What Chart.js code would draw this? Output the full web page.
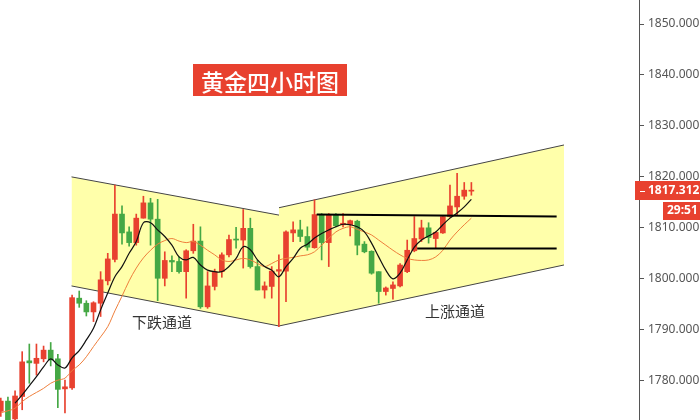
<!DOCTYPE html>
<html>
<head>
<meta charset="utf-8">
<script src="https://cdn.jsdelivr.net/npm/chart.js@4.4.1/dist/chart.umd.min.js"></script>
<style>
  html, body { margin: 0; padding: 0; background: #fff; }
  #wrap { position: relative; width: 700px; height: 420px; overflow: hidden; }
  #wrap canvas { position: absolute; left: 0; top: 0; }
  .title {
    position: absolute; left: 193px; top: 64px; width: 154px; height: 32px;
    background: #e8412f; color: #fff; text-align: center; line-height: 32px;
    font: 500 23px "Noto Sans CJK SC", sans-serif; letter-spacing: 0px;
  }
  .tag {
    position: absolute; color: #333; font: 15px "Noto Sans CJK SC", sans-serif;
    white-space: nowrap;
  }
</style>
</head>
<body>
<div id="wrap">
  <canvas id="goldChart" width="700" height="420"></canvas>
  <div class="title">黄金四小时图</div>
  <div class="tag" style="left:132px; top:311px;">下跌通道</div>
  <div class="tag" style="left:425px; top:300px;">上涨通道</div>
</div>
<script>
// 4H candles, oldest first
const opens = [
  1774.0, 1776.0, 1772.5, 1776.9, 1783.9, 1783.4, 1784.3, 1786.0, 1784.3, 1778.4,
  1778.6, 1796.2, 1795.2, 1793.5, 1795.2, 1799.6, 1803.8, 1812.7, 1809.2, 1807.1,
  1811.9, 1814.9, 1811.7, 1800.1, 1803.6, 1803.4, 1801.4, 1805.5, 1807.4, 1794.5,
  1798.5, 1801.4, 1804.7, 1807.8, 1807.6, 1809.9, 1802.4, 1797.8, 1798.5, 1801.5,
  1801.5, 1809.0, 1809.6, 1808.3, 1806.1, 1812.6, 1807.1, 1812.6, 1810.6, 1810.6,
  1811.3, 1806.8, 1805.4, 1801.4, 1797.5, 1798.1, 1798.6, 1801.4, 1805.5, 1807.8,
  1810.0, 1807.9, 1809.0, 1812.2, 1814.1, 1816.2, 1817.2
];
const highs = [
  1776.6, 1776.8, 1778.0, 1785.7, 1787.2, 1787.2, 1786.8, 1787.5, 1785.2, 1780.1,
  1796.8, 1797.6, 1795.7, 1795.5, 1801.4, 1805.0, 1818.4, 1814.3, 1810.2, 1812.7,
  1816.2, 1815.8, 1815.6, 1805.3, 1804.5, 1804.3, 1805.7, 1810.7, 1810.2, 1801.4,
  1801.9, 1805.1, 1808.6, 1810.1, 1813.6, 1811.9, 1803.6, 1799.4, 1802.4, 1804.7,
  1809.4, 1811.2, 1811.5, 1810.2, 1815.5, 1812.8, 1812.8, 1812.8, 1812.8, 1811.5,
  1811.5, 1807.3, 1805.5, 1801.4, 1798.4, 1799.4, 1803.0, 1807.6, 1812.2, 1811.5,
  1811.0, 1809.2, 1812.3, 1818.4, 1820.7, 1818.9, 1818.9
];
const lows = [
  1773.0, 1771.5, 1771.0, 1774.3, 1779.5, 1781.1, 1783.7, 1782.9, 1774.7, 1773.7,
  1778.3, 1794.4, 1792.7, 1791.6, 1792.6, 1798.8, 1803.3, 1806.8, 1806.4, 1806.6,
  1811.9, 1806.6, 1795.7, 1798.6, 1801.4, 1801.1, 1796.2, 1805.0, 1794.2, 1794.2,
  1797.8, 1800.3, 1804.3, 1806.0, 1802.1, 1802.1, 1797.8, 1796.2, 1796.2, 1790.6,
  1795.5, 1807.3, 1807.3, 1805.6, 1806.0, 1803.7, 1802.4, 1810.2, 1810.2, 1808.4,
  1804.7, 1805.1, 1800.9, 1795.2, 1796.8, 1796.0, 1798.4, 1801.2, 1805.3, 1807.3,
  1807.0, 1806.0, 1808.9, 1812.1, 1812.5, 1815.6, 1816.4
];
const closes = [
  1776.0, 1772.0, 1777.0, 1783.7, 1783.5, 1784.4, 1786.0, 1784.1, 1778.3, 1778.8,
  1796.3, 1795.2, 1793.5, 1795.3, 1799.8, 1803.9, 1812.7, 1809.0, 1807.1, 1811.9,
  1814.9, 1811.7, 1800.1, 1803.6, 1803.3, 1801.4, 1805.5, 1807.4, 1794.5, 1798.6,
  1801.4, 1804.7, 1807.7, 1807.6, 1809.9, 1802.4, 1797.8, 1798.6, 1801.5, 1801.8,
  1809.2, 1809.6, 1808.3, 1806.2, 1812.6, 1807.1, 1812.6, 1810.4, 1810.9, 1811.4,
  1806.6, 1805.3, 1801.1, 1797.5, 1798.2, 1798.8, 1802.7, 1805.6, 1807.9, 1810.0,
  1808.1, 1809.1, 1812.2, 1814.3, 1816.2, 1817.4, 1817.312
];
// moving averages
const maFast = [
  null, null, 1775.6, 1777.2, 1779.0, 1780.8, 1782.7, 1784.3, 1783.1, 1782.5,
  1784.5, 1785.9, 1788.0, 1790.3, 1793.9, 1797.2, 1800.4, 1802.4, 1805.0, 1807.3,
  1811.0, 1811.0, 1809.6, 1808.3, 1806.6, 1804.3, 1803.7, 1804.2, 1802.7, 1801.7,
  1801.4, 1801.4, 1802.4, 1804.0, 1806.3, 1805.7, 1803.7, 1802.4, 1801.7, 1800.4,
  1802.4, 1804.0, 1806.0, 1806.8, 1808.0, 1808.9, 1809.6, 1810.2, 1810.7, 1810.6,
  1810.2, 1809.2, 1807.0, 1804.3, 1801.7, 1800.0, 1801.1, 1803.7, 1806.2, 1807.6,
  1808.4, 1809.2, 1810.6, 1811.9, 1812.9, 1814.1, 1815.6
];
const maSlow = [
  1773.7, 1774.1, 1774.6, 1775.9, 1776.9, 1777.7, 1778.5, 1779.5, 1780.1, 1780.5,
  1782.0, 1783.1, 1784.7, 1786.7, 1788.6, 1790.6, 1793.7, 1796.6, 1799.6, 1802.1,
  1804.1, 1805.6, 1806.8, 1807.5, 1807.9, 1807.4, 1807.1, 1807.3, 1806.6, 1805.6,
  1804.7, 1803.7, 1803.4, 1803.7, 1804.0, 1803.7, 1803.0, 1802.4, 1803.0, 1803.7,
  1804.0, 1804.2, 1804.5, 1804.7, 1805.3, 1806.6, 1807.9, 1809.2, 1809.9, 1810.2,
  1809.7, 1809.2, 1808.6, 1807.6, 1806.6, 1805.6, 1804.7, 1804.0, 1803.7, 1803.6,
  1803.7, 1804.3, 1805.6, 1807.6, 1809.2, 1810.6, 1811.9
];

// channels and support lines, x = candle index
const fallX = [9.92, 39.02];
const fallTop = [1820.0, 1812.5];
const fallBottom = [1798.6, 1790.74];
const riseX = [39.02, 78.99];
const riseTop = [1813.95, 1826.26];
const riseBottom = [1790.74, 1802.71];
const levelHighX = [44.3, 77.96];
const levelHigh = [1812.6, 1812.2];
const levelLowX = [58.4, 77.96];
const levelLow = [1805.95, 1805.95];

const countdown = "29:51";

const UP = "#e8412f";
const DOWN = "#45a845";

const colors = closes.map((c, i) => (c >= opens[i] ? UP : DOWN));
const pts = (xs, ys) => xs.map((x, i) => ({ x: x, y: ys[i] }));
const series = (ys) => ys.map((y, i) => ({ x: i, y: y }));

function edge(data, fill, order) {
  return {
    type: "line",
    data: data,
    borderColor: "#444",
    borderWidth: 1,
    backgroundColor: "#ffffaa",
    pointRadius: 0,
    fill: fill,
    order: order,
  };
}

function level(data) {
  return {
    type: "line",
    data: data,
    borderColor: "#000",
    borderWidth: 2,
    pointRadius: 0,
    fill: false,
    order: 0,
  };
}

const priceTag = {
  id: "priceTag",
  afterDraw(chart) {
    const ctx = chart.ctx;
    const last = closes[closes.length - 1];
    const y = Math.round(chart.scales.y.getPixelForValue(last));
    const left = chart.chartArea.right - 4;
    ctx.save();
    ctx.fillStyle = UP;
    ctx.fillRect(left, y - 10, 700 - left, 19);
    ctx.fillRect(663, y + 11, 37, 18);
    ctx.fillStyle = "#fff";
    ctx.fillRect(chart.chartArea.right + 1, y, 5, 1);
    ctx.font = 'bold 12px "Noto Sans", sans-serif';
    ctx.textBaseline = "middle";
    ctx.textAlign = "left";
    ctx.fillText(last.toFixed(3), 648, y);
    ctx.fillText(countdown, 667, y + 20);
    ctx.restore();
  },
};

new Chart(document.getElementById("goldChart"), {
  type: "bar",
  data: {
    datasets: [
      edge(pts(fallX, fallTop), false, 10),
      edge(pts(fallX, fallBottom), "-1", 10),
      edge(pts(riseX, riseTop), false, 10),
      edge(pts(riseX, riseBottom), "-1", 10),
      {
        type: "bar",
        data: lows.map((l, i) => ({ x: i, y: [l, highs[i]] })),
        backgroundColor: colors,
        barThickness: 1,
        grouped: false,
        order: 6,
      },
      {
        type: "bar",
        data: opens.map((o, i) => ({ x: i, y: [o, closes[i]] })),
        backgroundColor: colors,
        barThickness: 5,
        minBarLength: 1,
        grouped: false,
        order: 5,
      },
      {
        type: "line",
        data: series(maSlow),
        borderColor: "#ee7f3c",
        borderWidth: 1,
        pointRadius: 0,
        tension: 0.35,
        fill: false,
        order: 3,
      },
      {
        type: "line",
        data: series(maFast),
        borderColor: "#111",
        borderWidth: 1.2,
        pointRadius: 0,
        tension: 0.35,
        fill: false,
        order: 2,
      },
      level(pts(levelHighX, levelHigh)),
      level(pts(levelLowX, levelLow)),
    ],
  },
  options: {
    responsive: false,
    animation: false,
    layout: { padding: 0 },
    plugins: { legend: { display: false }, tooltip: { enabled: false } },
    scales: {
      x: {
        type: "linear",
        min: -0.112,
        max: 89.51,
        offset: false,
        display: false,
      },
      y: {
        position: "right",
        min: 1772.29,
        max: 1854.71,
        ticks: {
          stepSize: 10,
          includeBounds: false,
          color: "#555",
          padding: 4,
          font: { size: 12, family: '"Noto Sans", sans-serif' },
          callback: (v) => v.toFixed(3),
        },
        grid: { drawOnChartArea: false, tickLength: 5, color: "#555" },
        border: { color: "#555", width: 1 },
        afterFit: (s) => {
          s.width = 61;
          s.paddingTop = 0;
          s.paddingBottom = 0;
        },
      },
    },
  },
  plugins: [priceTag],
});
</script>
</body>
</html>
